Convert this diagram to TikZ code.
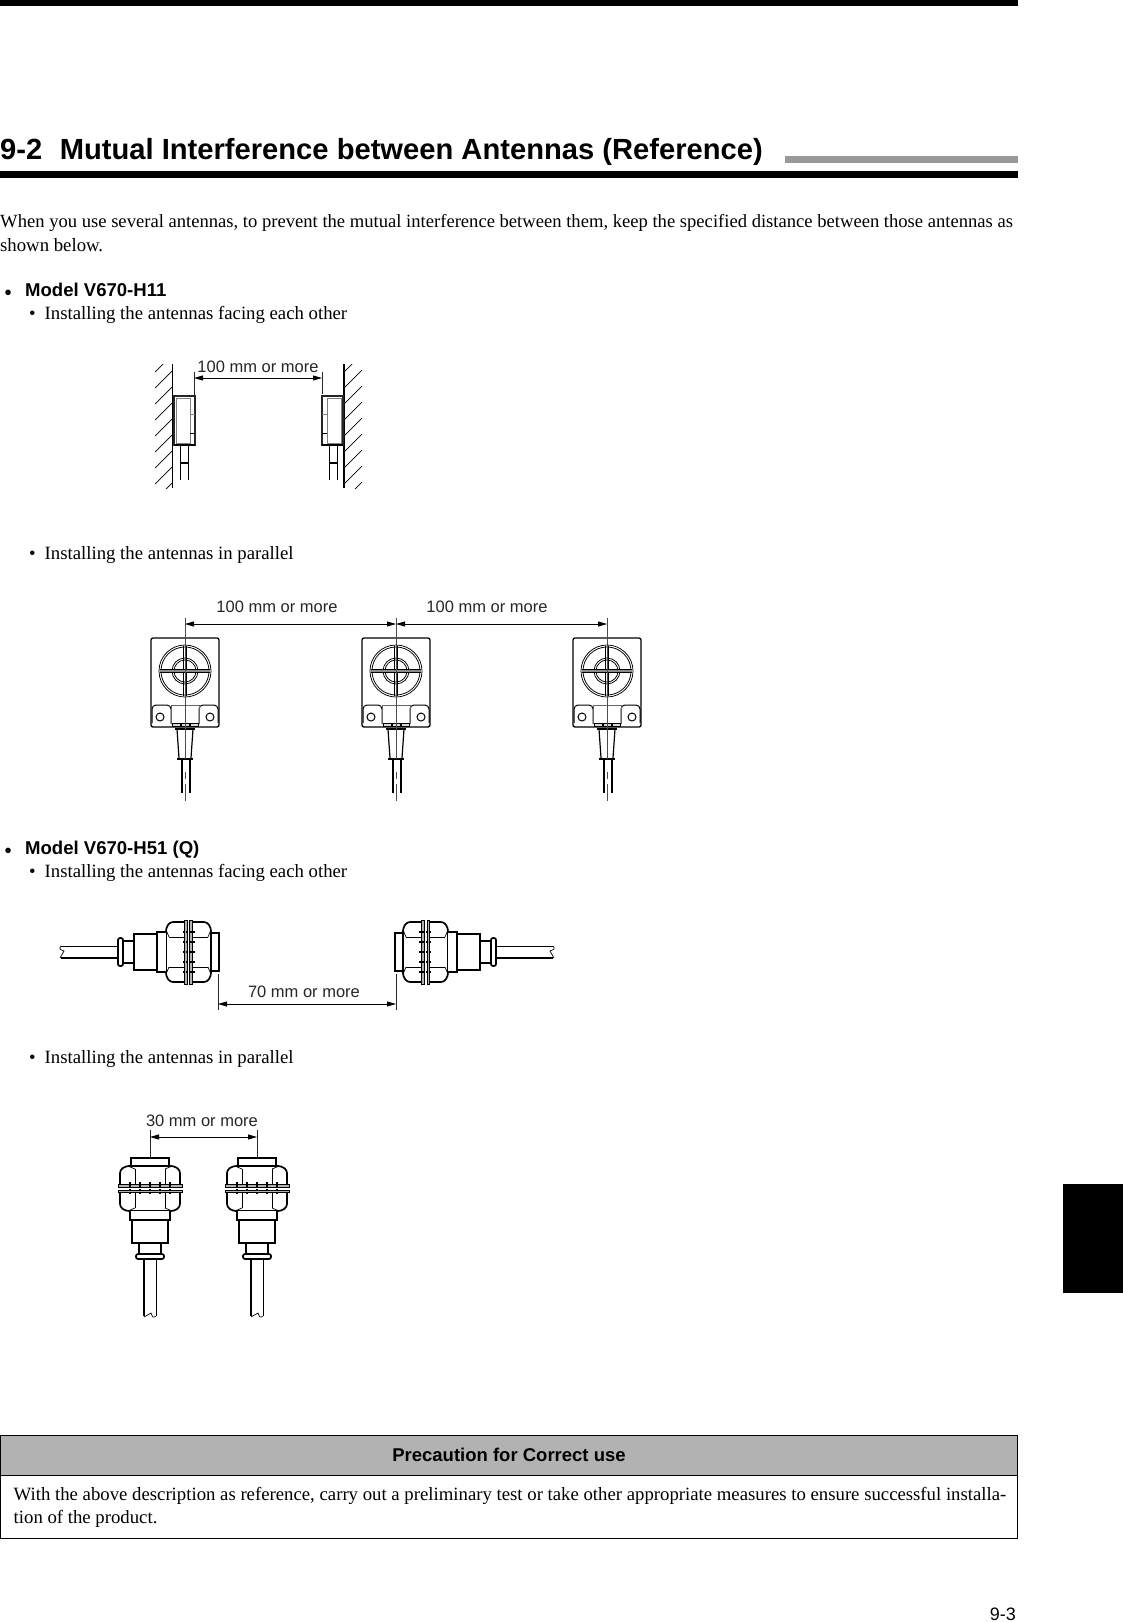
\documentclass[tikz,border=0pt]{standalone}
\usepackage{fontspec}
\setmainfont{Liberation Serif}
\setsansfont{Liberation Sans}
\usetikzlibrary{arrows.meta}
\newcommand{\fsz}[1]{\fontsize{#1}{#1}\selectfont}
\tikzset{
 body/.style={inner sep=0,anchor=base west,font=\fsz{18.75}},
 head/.style={inner sep=0,anchor=base west,font=\sffamily\bfseries\fsz{18.55}},
 dimlabel/.style={inner sep=0,anchor=center,font=\sffamily\fsz{16.5},text=black!85},
 dimline/.style={line width=.8pt,{Triangle[length=9pt,width=5pt]}-{Triangle[length=9pt,width=5pt]}},
 ext/.style={line width=.8pt,black!85},
 thick1/.style={line width=1.7pt},
 thin1/.style={line width=.7pt},
 grey1/.style={line width=1pt,black!70},
 tabhead/.style={fill=black!30,draw=black,line width=.8pt},
 hexant/.pic={
   % end
   \draw[thick1,fill=white] (8,-19) -- (0,-19) -- (0,19) -- (8,19);
   % nuts
   \draw[thick1,fill=white,rounded corners=3pt] (26,-30) -- (12,-30) -- (8,-24) -- (8,24) -- (12,30) -- (26,30);
   \draw[thick1,fill=white,rounded corners=3pt] (35,-30) -- (49,-30) -- (53,-24) -- (53,24) -- (49,30) -- (35,30);
   \draw[thin1] (11,-15) -- (26,-15) (11,15) -- (26,15) (35,-15) -- (50,-15) (35,15) -- (50,15);
   \draw[thin1] (11,-15) -- (8.5,-21) (11,15) -- (8.5,21) (50,-15) -- (52.5,-21) (50,15) -- (52.5,21);
   % washers
   \foreach \a in {26.5,32}{
     \draw[line width=.9pt,fill=black!30] (\a,-32) rectangle (\a+2.6,32);
   }
   % threads
   \foreach \v in {-20,-10,0,10,20}{
     \draw[line width=1.4pt,dash pattern=on 1.8pt off 1.6pt] (24,\v) -- (37,\v);
   }
   % next, body
   \draw[thick1,fill=white] (53,-20) -- (62,-20) -- (62,20) -- (53,20);
   \draw[thick1,fill=white] (62,-18) rectangle (85,18);
   \draw[line width=2.4pt] (85,-18) -- (85,18);
   \draw[thick1,fill=white] (85,-11) rectangle (96,11);
   \draw[thick1,fill=white,rounded corners=2pt] (96,-14) rectangle (101,14);
   % cable
   \draw[thin1] (101,-6) -- (158,-6);
   \draw[thick1] (101,6) -- (158,6);
   \draw[thin1] (158,-6) .. controls (160,-3) .. (155,-1) .. controls (157,2) .. (159,6);
 },
 flatant/.pic={
   \draw[line width=1.2pt,black!85,fill=white] (0,0) rectangle (21,49);
   \draw[line width=.8pt,black!50] (2,2) rectangle (16,47);
   \draw[thin1] (16,37) -- (21,37);
   \draw[line width=1pt,black!50] (16,18.5) -- (21,18.5);
   \draw[line width=1.6pt] (0,49) -- (21,49);
   \draw[thin1] (6,49) -- (6,84) (14,49) -- (14,84);
   \draw[line width=1.6pt] (5.5,67) -- (14.5,67);
 },
 squareant/.pic={
   \draw[line width=1.3pt,rounded corners=2pt] (-34,0) rectangle (34,89);
   \foreach \r in {26,24,13,11}{\draw[line width=.75pt] (0,33) circle (\r);}
   \draw[thin1] (-25,31.5) -- (25,31.5) (-25,34.5) -- (25,34.5);
   \draw[thin1] (-1.5,8) -- (-1.5,58) (1.5,8) -- (1.5,58);
   \draw[line width=1.4pt,black!45] (-25,33) -- (25,33);
   % lugs
   \draw[line width=1pt,rounded corners=4pt] (-33,85) -- (-33,67) -- (-14,67) -- (-14,86);
   \draw[line width=1pt,rounded corners=4pt] (33,85) -- (33,67) -- (14,67) -- (14,86);
   \draw[line width=1pt] (-25,79) circle (4) (25,79) circle (4);
   % central block
   \draw[line width=1pt,black!60] (-14,67) rectangle (14,85);
   \draw[line width=1pt,fill=black!15] (-13,85) rectangle (-5,88) (-4,85) rectangle (4,88) (5,85) rectangle (13,88);
   % neck
   \draw[line width=1.6pt] (-10,91) -- (10,91);
   \draw[line width=1.2pt] (-8,91) -- (-6,120) (8,91) -- (6,120);
   \draw[line width=1.6pt] (-8,121) -- (8,121);
   \draw[line width=1.1pt] (-3,121) -- (-3,155) (5,121) -- (5,155);
   \draw[grey1] (0,-20) -- (0,121) (0,134) -- (0,141) (0,146) -- (0,163);
 },
}
\begin{document}
\begin{tikzpicture}[x=1pt,y=-1pt]
\useasboundingbox (0,0) rectangle (1123,1622);
\fill[white] (0,0) rectangle (1123,1622);
% page furniture
\fill[black] (0,0) rectangle (1017.5,6);
\fill[black] (0,171) rectangle (1017.5,178);
\fill[black!40] (785,156) rectangle (1017.5,163);
\fill[black] (1063,1184) rectangle (1123,1293);
\node[inner sep=0,anchor=base west,font=\sffamily\bfseries\fsz{29.15}] (title) at (0,159) {9-2\hspace{.6em}Mutual Interference between Antennas (Reference)};
\node[body,font=\fsz{18.6}] (p1) at (0,227) {When you use several antennas, to prevent the mutual interference between them, keep the specified distance between those antennas as};
\node[body] (p2) at (0,251) {shown below.};
\node[body,font=\fsz{23}] (b1) at (4,300.5) {•};
\node[head] (m1) at (25,296) {Model V670-H11};
\node[body] (s1b) at (29,319) {•};
\node[body] (s1) at (44.5,319) {Installing the antennas facing each other};
\node[body] (s2b) at (29,559) {•};
\node[body] (s2) at (44.5,559) {Installing the antennas in parallel};
\node[body,font=\fsz{23}] (b2) at (4,858.5) {•};
\node[head] (m2) at (25,854) {Model V670-H51 (Q)};
\node[body] (s3b) at (29,877) {•};
\node[body] (s3) at (44.5,877) {Installing the antennas facing each other};
\node[body] (s4b) at (29,1063) {•};
\node[body] (s4) at (44.5,1063) {Installing the antennas in parallel};
% walls
\begin{scope}
 \clip (155,364) rectangle (172,488);
 \foreach \y in {372,388,...,520}{\draw[thin1] (155,\y) -- (172,\y-17);}
\end{scope}
\begin{scope}
 \clip (344,364) rectangle (362,488);
 \foreach \y in {372,388,...,520}{\draw[thin1] (344,\y) -- (362,\y-18);}
\end{scope}
\draw[line width=.9pt] (172,364) -- (172,488);
\draw[line width=1.5pt] (344,364) -- (344,488);
\pic at (174,396) {flatant};
\pic[xscale=-1] at (343,396) {flatant};
\coordinate (fa) at (194,378);
\coordinate (fb) at (322,378);
\draw[ext] (194,372) -- (194,396);
\draw[ext] (322,372) -- (322,394);
\draw[dimline] (fa) -- (fb);
\node[dimlabel] (l1) at (258,367) {100 mm or more};
% square antennas
\pic at (185,638) {squareant};
\pic at (396,638) {squareant};
\pic at (607,638) {squareant};
\coordinate (sa) at (185,624);
\coordinate (sb) at (396,624);
\coordinate (sc) at (607,624);
\draw[dimline] (sa) -- (sb);
\draw[dimline] (sb) -- (sc);
\node[dimlabel] (l2) at (277,607) {100 mm or more};
\node[dimlabel] (l3) at (487,607) {100 mm or more};
% horizontal hex antennas
\pic[xscale=-1] at (219,952) {hexant};
\pic at (395,952) {hexant};
\coordinate (ha) at (218,1004);
\coordinate (hb) at (396,1004);
\draw[ext] (218,974) -- (218,1010);
\draw[ext] (396,974) -- (396,1010);
\draw[dimline] (ha) -- (hb);
\node[dimlabel] (l4) at (304,992) {70 mm or more};
% vertical hex antennas
\pic[rotate=-90] at (150,1158) {hexant};
\pic[rotate=-90] at (257,1158) {hexant};
\coordinate (va) at (150,1137);
\coordinate (vb) at (257,1137);
\draw[ext] (150,1130) -- (150,1158);
\draw[ext] (257,1130) -- (257,1158);
\draw[dimline] (va) -- (vb);
\node[dimlabel] (l5) at (202,1121) {30 mm or more};
% precaution box
\draw[tabhead] (.4,1435.5) rectangle (1017.5,1475);
\draw[line width=.8pt] (.4,1475) rectangle (1017.5,1538);
\node[inner sep=0,anchor=center,font=\sffamily\bfseries\fsz{18.5}] (ph) at (509,1455) {Precaution for Correct use};
\node[body] (pb1) at (13.5,1500) {With the above description as reference, carry out a preliminary test or take other appropriate measures to ensure successful installa-};
\node[body] (pb2) at (13.5,1523) {tion of the product.};
\node[inner sep=0,anchor=base east,font=\sffamily\fsz{18}] (pg) at (1016,1620) {9-3};
\end{tikzpicture}
\end{document}
